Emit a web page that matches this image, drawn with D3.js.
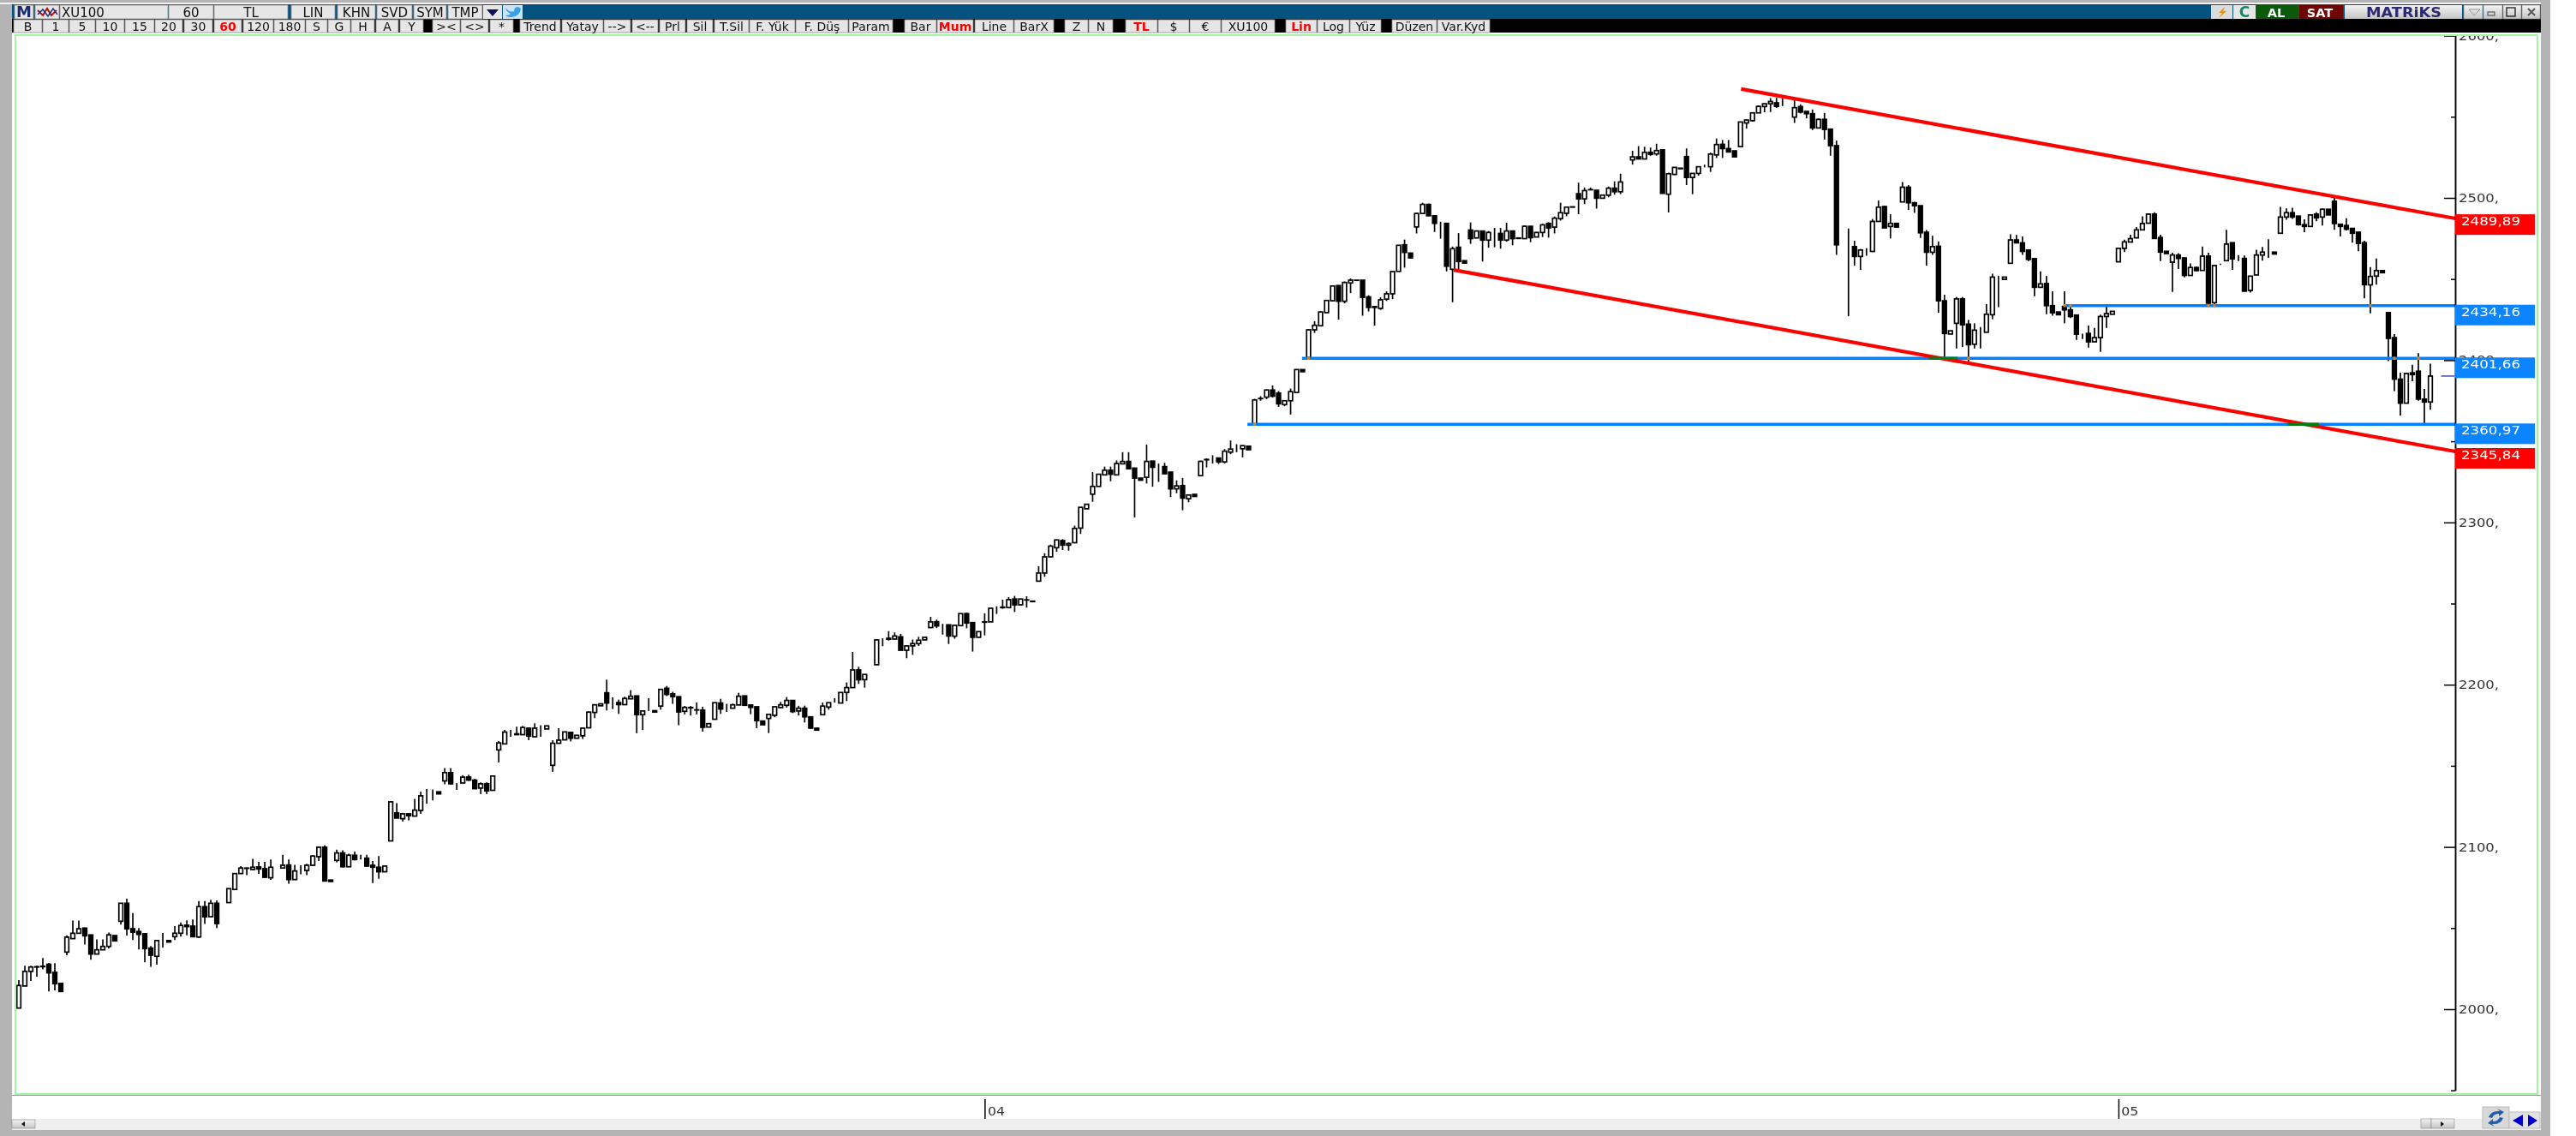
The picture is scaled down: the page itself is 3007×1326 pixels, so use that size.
<!DOCTYPE html>
<html>
<head>
<meta charset="utf-8">
<title>XU100 60</title>
<script src="https://cdn.jsdelivr.net/npm/d3@7"></script>
<style>
  html, body { margin: 0; padding: 0; background: #fff; }
  svg { display: block; filter: blur(0.4px); }
  text { font-family: "DejaVu Sans", sans-serif; }
  .candle line { stroke: #000; stroke-width: 1.7; }
  .candle rect { stroke: #000; stroke-width: 1.7; }
  .axis .domain, .axis .tick line { stroke: #000; stroke-width: 1.5; }
</style>
</head>
<body>
<div id="chart"></div>
<script>
// hourly bars, one row per session
var opens = [
  2000.7,2014.3,2023.3,2026,2026.2,2027.7,2022.7,2015.9,
  2035.2,2043.5,2046.8,2050,2045.8,2034,2036.6,2038.7,2045.4,
  2054.2,2065.3,2049.6,2047.9,2046.5,2037.7,2032.6,2042.3,2042.3,
  2044.7,2046.8,2051.8,2051.2,2044.5,2063.2,2057,2065.3,2053,
  2065.7,2073.8,2083.6,2086.8,2086.1,2087.7,2086.6,2081,2088.2,
  2087,2088.9,2079.9,2085.5,2085.5,2088.7,2094,2099.8,2079.6,
  2091.7,2096.3,2087.8,2094.9,2092.2,2093.1,2088.7,2087.5,2084.7,
  2103.7,2121,2117.4,2120.4,2119,2122.5,2132.2,2133.4,2134,
  2140.7,2145.8,2139.3,2139.4,2143.1,2141.2,2136.3,2138.9,2134.9,
  2159.8,2163.5,2170.4,2169.7,2169.2,2173.2,2167.9,2173.2,2172.7,
  2150.3,2163.9,2166,2170.6,2167,2168.5,2173.4,2182.9,2187,
  2195,2188.7,2189,2187.7,2191.3,2193.1,2181.5,2183.8,2184,
  2186.8,2197.8,2194.3,2192.6,2183.6,2185.9,2184.5,2184.3,2173.9,
  2178.7,2188.7,2186,2185.5,2187.5,2193.1,2187.5,2186.4,2177.6,
  2179.2,2181.1,2185.9,2187.3,2190.3,2183.8,2185.5,2180.2,2173.2,
  2181.5,2186.2,2189,2188.7,2195.2,2198.2,2209.1,2203.1,2206.3,
  2212.3,2227.8,2228.6,2228.1,2229.5,2221.2,2223.9,2225.3,2227.6,
  2235.2,2238.8,2236.9,2236.9,2229.9,2236.4,2243.8,2238.3,2229.2,
  2238.7,2238.7,2247.6,2247.5,2247.5,2252.8,2249.2,2252.3,2251.5,
  2263.8,2268.8,2278.8,2284.4,2288.8,2286,2287.5,2296.5,2308.4,
  2317.4,2322.2,2329.3,2332.2,2329.3,2336.1,2337.6,2333.5,2327.3,
  2327.8,2337.8,2334.4,2334.4,2331,2320.7,2322.7,2314.6,2317.3,
  2328.8,2338.8,2339,2339.7,2337.3,2343.3,2345.2,2345.4,2347,
  2360.6,2376.4,2377.2,2381.6,2379.7,2372.6,2375,2380.1,2394.2,
  2401.7,2418.7,2421.2,2429.3,2436.6,2446,2436.3,2447.6,2449.3,
  2449.3,2439,2433,2431.9,2437.6,2440.9,2454.7,2471.1,2466,
  2482.1,2490.4,2496,2489,2484.3,2484.3,2456,2469.6,2461.3,
  2480.2,2475.3,2479.6,2474,2478.7,2478.1,2474,2479.6,2475.3,
  2474.9,2482.5,2475.9,2478.7,2484.3,2482,2487.2,2490.5,2494.5,
  2502.6,2499.4,2505,2504.7,2499.8,2501.7,2506,2503.8,2510.2,
  2523.4,2525.3,2524,2528.1,2527.1,2529.6,2502.3,2514.5,2518.3,
  2525.5,2512.6,2515.1,2519.4,2519.2,2526.5,2533,2530.4,2529,
  2531.6,2546.2,2547.6,2552.4,2556.3,2558,2558.6,2556.8,2556.8,
  2549.8,2556.3,2553.3,2551.9,2543.1,2548.4,2542.4,2532.2,2472.3,
  2470.6,2470,2463.9,2467.4,2467,2485.5,2494.7,2482.4,2484.3,
  2497.5,2506.6,2497,2495.2,2478.8,2466.5,2470.2,2436.6,2416.1,
  2422.7,2437.8,2422.2,2409.8,2418.6,2417.2,2428,2450.1,2449.8,
  2459.7,2474.1,2472.3,2467.9,2462.6,2444.9,2447.2,2433.6,2429.7,
  2433.1,2431,2427.8,2416.3,2416.5,2411.3,2413.9,2426.9,2428.3,
  2460.6,2468.9,2472.8,2475.4,2480.3,2484.4,2490,2475.6,2467.1,
  2460.4,2464.8,2463,2452.2,2457.1,2455.3,2464.1,2435.4,2458.7,
  2461.3,2472.4,2462.4,2462.7,2443,2452.5,2464.8,2466.2,2466.6,
  2478.2,2488.2,2490.9,2488.8,2483.5,2482.4,2490,2488.2,2493,
  2497.9,2483.8,2483,2481.2,2478.9,2472.4,2446.4,2451.8,2455.2,
  2429.3,2413.9,2388.3,2373.5,2392.2,2393.2,2376,2374.2,2390.2
];
var highs = [
  2018,2026.8,2026.8,2026.8,2031.5,2028.5,2028.4,2015.9,
  2045.6,2054.6,2054.6,2050.3,2045.8,2043,2043,2047.2,2045.4,
  2065.3,2068.1,2059.3,2050,2046.5,2038.9,2042.3,2047,2042.3,
  2051.2,2053.5,2054.8,2055.3,2066.7,2066.7,2067.4,2067,2053,
  2074.3,2083.6,2088.2,2087.3,2092.6,2090.8,2090.8,2092.2,2088.2,
  2095.2,2092.2,2089,2088.7,2089.6,2094.9,2100.2,2101,2079.9,
  2098.4,2098,2095.8,2097.2,2095.2,2095.2,2091.4,2094.4,2088.2,
  2128,2127,2121,2120.8,2129.6,2134,2135.7,2135.4,2134,
  2148.6,2148.6,2139.3,2144.2,2144.5,2141.9,2139.8,2139.8,2143.7,
  2165.3,2172.2,2172.2,2174.1,2174.6,2173.6,2176.2,2175,2174.6,
  2165.8,2173.2,2171,2170.6,2169,2173.2,2183.5,2188,2188.2,
  2203.1,2192.2,2190.8,2192.6,2196.6,2193.1,2183.8,2191.7,2184,
  2197.5,2199.2,2195.6,2192.6,2186.9,2186.9,2189,2186.4,2176,
  2188.9,2191.3,2188.2,2188.3,2195,2193.1,2187.5,2186.4,2177.6,
  2182,2186.4,2189.4,2192.4,2190.3,2187,2187.1,2180.2,2173.2,
  2189,2188.9,2191.7,2195.2,2201.4,2220.2,2211,2206.3,2206.3,
  2228,2228.6,2233,2232.2,2231.3,2223.9,2227.8,2229.5,2229.2,
  2241.8,2240.1,2237.5,2236.9,2236.6,2243.8,2244.5,2238.3,2232.7,
  2244,2247.1,2248.3,2252.4,2254,2254.7,2253,2254.5,2251.5,
  2273,2281,2286.3,2289.5,2289.7,2287.6,2298,2309.3,2311.2,
  2331,2330,2334.4,2334.4,2338.2,2343.3,2343.3,2333.5,2327.3,
  2348,2337.8,2336.3,2336.7,2331,2325.9,2327.4,2316.9,2317.3,
  2338.2,2339.5,2341.4,2339.7,2345.2,2350.5,2348.2,2347.6,2347,
  2376.2,2377.8,2382,2384.4,2381,2375,2382.5,2394.2,2394.2,
  2419,2424,2430,2437.2,2446,2446,2448.5,2450.4,2449.3,
  2449.3,2440,2433,2438.7,2442.4,2454.6,2471,2474.3,2466,
  2491,2497,2496.5,2489,2485.3,2484.3,2470,2478.3,2461.3,
  2484.9,2480,2479.6,2479.6,2481.5,2481.5,2484.7,2479.6,2475.3,
  2483,2482.5,2479,2484,2485,2488.5,2497,2494.5,2494.5,
  2509.4,2506.4,2506.4,2504.7,2501.7,2507,2510.2,2514.9,2510.2,
  2529,2531.9,2531.5,2531,2533.4,2530,2515.5,2519,2518.3,
  2530.5,2515.1,2519.5,2520.5,2528,2536.6,2535.7,2535.7,2529,
  2547,2548.2,2552.4,2557,2558.3,2561.5,2561.7,2561.5,2556.8,
  2560.7,2557.7,2553.3,2554.5,2549,2552.4,2542.4,2535.3,2472.3,
  2481.1,2473.6,2468.5,2469,2487,2498.4,2495,2489.9,2484.3,
  2509.8,2507.9,2497.6,2495.2,2480.2,2476.7,2473.2,2440.3,2418.1,
  2438.9,2438.9,2424.8,2422.7,2420.4,2434.5,2453.3,2452,2451.2,
  2477.6,2477.2,2476.2,2467.9,2462.6,2454.7,2451.9,2442.4,2429.7,
  2442.4,2434.5,2427.8,2416.3,2421.3,2419.9,2428,2433.6,2430.1,
  2469,2474.2,2477.3,2482,2488.6,2490.5,2491.2,2477.3,2467.1,
  2466.2,2465.9,2463.6,2459.6,2457.8,2470.1,2466.2,2458.5,2459.5,
  2480.3,2472.4,2464.8,2464.5,2452,2468,2469.8,2474.5,2466.6,
  2494.4,2493.5,2493.9,2488.8,2486.8,2490,2491.2,2493.4,2493,
  2500.2,2483.8,2487.4,2481.2,2478.9,2473.6,2457.4,2462.7,2455.2,
  2429.7,2416.1,2392.3,2392.3,2397.2,2404.3,2382.3,2397.9,2390.2
];
var lows = [
  2000.7,2014.3,2017.4,2020.1,2024.5,2010.9,2011.6,2010.9,
  2033.3,2043.5,2046.8,2039.8,2030.5,2034,2036.6,2037.3,2042.1,
  2052.1,2045.4,2042.6,2036.8,2028.9,2026.2,2027.5,2038,2041.4,
  2042.6,2044.7,2045.6,2044.7,2043.8,2052.6,2057,2050,2053,
  2065.7,2073.8,2083.6,2082.6,2085.7,2083.4,2080.8,2079.7,2088.2,
  2087,2077.3,2079.9,2083.1,2082.6,2088.4,2091.4,2078.7,2078.7,
  2090.5,2087.3,2088,2091.7,2092.2,2087.8,2077.8,2080.4,2084.7,
  2103.7,2117.8,2115.7,2116.4,2119,2120.4,2126.6,2128.7,2132.7,
  2138.6,2138.4,2135.2,2139.4,2140.7,2135.7,2132.6,2132.6,2134.9,
  2152.1,2163.5,2167.9,2169.2,2169.2,2165.8,2167.9,2167.9,2172.7,
  2146.3,2163.9,2166,2165,2167,2166.5,2173.4,2179.4,2187,
  2184.1,2185,2182,2187.7,2191.3,2170.1,2172,2183.8,2183.1,
  2184.6,2193,2188.2,2175,2181.7,2181,2181.7,2171.1,2173.9,
  2178.7,2182,2183.2,2185.5,2187.5,2187.3,2181.8,2173.2,2175.3,
  2170.2,2179.9,2185.5,2185.9,2182.5,2181,2176.7,2172.9,2172,
  2181.5,2184.6,2189,2188.7,2189.9,2198.2,2200.5,2198.2,2206.3,
  2212.3,2223.7,2227.2,2228,2221.2,2216.3,2218.4,2223.9,2227.6,
  2234.8,2234.8,2230.9,2225.1,2228.3,2236.4,2234.8,2220.4,2229.2,
  2230.4,2238.7,2243.6,2246.8,2247.5,2244.8,2249.2,2247.5,2251.2,
  2263.8,2266.5,2278.8,2282,2283,2282.6,2287.5,2292.9,2308.4,
  2312.7,2322.2,2329.3,2325.4,2329.3,2336.1,2333.1,2303,2326,
  2324,2322,2325,2329.8,2315.6,2318,2307.5,2312.4,2316,
  2328.8,2333.9,2336.3,2336,2336.3,2342,2343.3,2340.1,2344.8,
  2360.6,2375,2375.9,2377,2371.2,2371.6,2366.5,2380,2392.9,
  2401.7,2416.8,2421,2429.3,2436.6,2425,2435,2441.3,2449.2,
  2427.4,2430,2421.2,2431,2436.5,2437.6,2454.7,2457,2463,
  2478.1,2490.4,2489,2479,2474.9,2454.7,2435.7,2454.5,2459.8,
  2471.7,2475.3,2460.8,2469.3,2469.6,2468.7,2473,2470.8,2475,
  2474.9,2472.7,2475.9,2475.9,2475.5,2478.1,2486,2488.7,2494.3,
  2490,2496.2,2505,2493.4,2499.8,2500.4,2502,2502.3,2510.2,
  2520.5,2524,2524,2526,2526,2502.8,2491,2514,2518,
  2507.9,2502.3,2513.7,2518.8,2516,2524.6,2524.6,2528.3,2525.3,
  2531.6,2542.7,2547,2552.4,2552.8,2552.9,2555.4,2556.6,2556.8,
  2546.2,2552,2549,2541.8,2543.1,2536,2526,2464.9,2472.3,
  2427.1,2458.2,2455.6,2464.4,2467,2485.5,2481.5,2475,2482,
  2497.5,2492.6,2490.8,2475.3,2458.2,2464.9,2429.2,2401,2416.1,
  2407.2,2408.1,2398.4,2407.2,2407.2,2417.2,2425.2,2432.7,2449.8,
  2459.7,2472.3,2464.9,2461,2439.4,2444.9,2428.3,2427.4,2428,
  2422.7,2426,2412.5,2413,2407.7,2411.3,2405.1,2419.9,2428.3,
  2460.6,2466.6,2472.8,2475,2480,2484.4,2474.8,2461,2465.7,
  2442.1,2456.2,2451,2452,2454.9,2455.3,2433.7,2434,2458.7,
  2461.3,2455.7,2461,2442.5,2441.6,2452.5,2461.3,2463,2465.4,
  2478.2,2486.5,2487,2483,2478.9,2482.4,2485.6,2483,2489.5,
  2480.3,2476.3,2480,2472.4,2467.1,2438.1,2428.9,2446.5,2453.9,
  2399.4,2380.9,2365.9,2373.5,2387,2375,2361.2,2369.4,2390.2
];
var closes = [
  2014.6,2023.3,2026,2026.2,2026.5,2022.4,2015.7,2010.9,
  2044.4,2046.8,2049.6,2045.2,2034,2036.6,2038.7,2045.8,2042.1,
  2065.3,2049.5,2047.5,2046.1,2037.3,2033.3,2042.3,2042.3,2041.4,
  2046.8,2051.6,2050.9,2044.7,2063.2,2056.9,2065.3,2052.8,2053,
  2074.3,2083.6,2087,2087,2087.5,2086.4,2081.3,2087.5,2088.2,
  2088.7,2079.9,2085.2,2085.5,2088.7,2094.4,2099.8,2079,2078.7,
  2096.3,2087.8,2094.9,2092.2,2092.2,2088.2,2087.5,2084.7,2088.2,
  2127.8,2117.8,2120.4,2119.2,2122.7,2131.5,2132.2,2133.4,2132.7,
  2145.8,2138.9,2139.3,2143,2141.2,2135.9,2138.9,2134.5,2143.7,
  2164.1,2170.8,2170.4,2169.2,2173.6,2168.3,2173.2,2173.2,2174.6,
  2163.9,2165.8,2170.9,2167,2168.8,2173.2,2183.1,2187.6,2188.2,
  2188.7,2188.7,2187.7,2191.5,2192.9,2181.5,2183.8,2183.8,2183.1,
  2197.1,2194,2192.6,2183.2,2186,2185.7,2184.4,2173.7,2176,
  2188.9,2185,2186,2187.6,2192.9,2187.3,2186,2177.8,2175.3,
  2181.7,2186.4,2187.6,2190.3,2183.4,2185.5,2180.2,2173.2,2172,
  2186.8,2188.9,2189,2195.2,2198.2,2209.1,2203,2206.3,2206.3,
  2227.6,2227.8,2228,2230,2221.2,2223.9,2225.3,2227.4,2229.2,
  2238.7,2236.2,2236.9,2230,2236.6,2243.8,2238,2229.2,2232.7,
  2238.5,2247.1,2247.6,2247.8,2252.4,2249.2,2252.8,2252.2,2251.2,
  2268.8,2278.8,2285.4,2289.2,2286,2287,2296.3,2309.3,2311.2,
  2322.2,2329.7,2332.2,2329.7,2336.3,2337.6,2333.1,2327.3,2326,
  2337.6,2334,2334.4,2330,2320.7,2322.5,2315,2316.9,2316,
  2337.6,2338.6,2339,2337.3,2343.9,2345.2,2345.2,2347.3,2344.8,
  2375.5,2376.3,2381.6,2377.8,2373.1,2375,2380.6,2394.2,2392.9,
  2418.7,2421.5,2429.7,2436.8,2445.7,2436.3,2447.9,2449.3,2449.2,
  2438.7,2432.5,2432.5,2437.2,2440.9,2454.6,2470.8,2466.4,2463,
  2490.4,2496,2489,2484.3,2484.3,2457.9,2468.7,2460.8,2459.8,
  2474.9,2479.6,2474,2478.7,2478.7,2474,2479.6,2474.9,2475,
  2482.5,2475.5,2478.7,2483.4,2481.5,2487.5,2490.9,2494.3,2494.3,
  2499.4,2504.5,2505.1,2499.8,2501.7,2506,2503.8,2509.8,2510.2,
  2525.3,2524,2528.1,2526.8,2529.2,2502.8,2514.9,2518.8,2518,
  2512.6,2515.1,2519.2,2519.4,2527,2532.9,2530.4,2528.3,2525.3,
  2546.8,2548,2552.4,2556.4,2558,2559.4,2556.4,2556.8,2556.8,
  2555.6,2552.9,2551.9,2543.1,2548.4,2542.2,2532.2,2471.1,2472.3,
  2470.6,2463.9,2467.9,2467.4,2485.5,2494.3,2481.5,2484.3,2482,
  2506.6,2497,2495.2,2478.5,2466.5,2470,2436.6,2416.4,2418.1,
  2437.8,2421.8,2409.5,2418.5,2418.6,2428.3,2451.2,2450.1,2451.2,
  2474.1,2472.3,2467,2462.1,2444.9,2447,2433.6,2429.2,2428,
  2431,2426.9,2416,2416.3,2411.3,2413.9,2426.9,2428.7,2430.1,
  2468.9,2472.9,2474.9,2480.3,2484.2,2490,2475,2466.6,2465.7,
  2464.8,2462.7,2452.2,2457.1,2455.2,2464.1,2435.1,2458.3,2458.7,
  2471.5,2462.4,2462.4,2442.5,2451.8,2464.8,2466.6,2466.2,2465.4,
  2488.2,2490.9,2488.2,2483.5,2482.4,2489.5,2487.7,2493,2489.5,
  2484.2,2482.4,2480.7,2478.2,2472,2446.5,2451.6,2455.2,2453.9,
  2413.4,2388.3,2373.5,2391.8,2391.1,2376,2374.2,2390.2,2390.2
];

var majorTicks = [2600, 2500, 2400, 2300, 2200, 2100, 2000];
var minorTicks = [2550, 2450, 2350, 2250, 2150, 2050, 1950];
var monthIndex = [161, 350];
var monthLabels = ["04", "05"];

// drawn trend lines: bar index and price at both ends
var channelTopIndex = [287.1, 406.2];
var channelTopPrice = [2567.1, 2487.3];
var channelBottomIndex = [239.2, 406.2];
var channelBottomPrice = [2455.6, 2343.7];

var levelValues = [2434.16, 2401.66, 2360.97];
var levelStart = [341.2, 213.9, 204.8];
var channelValues = [2489.89, 2345.84];
var crossIndex = [206, 215, 325, 341, 342, 365, 366, 392, 396, 400];
var crossPrice = [2360.97, 2401.66, 2401.66, 2434.16, 2434.16, 2434.16, 2434.16, 2434.16, 2401.66, 2401.66];

// toolbar
var row1Labels = ["M", "", "XU100", "60", "TL", "LIN", "KHN", "SVD", "SYM", "TMP"];
var row1Edges = [[17,39],[41,69],[70,196],[197,249],[250,336],[340,391],[394,438],[440,481],[483,521],[523,563]];
var row2Labels = ["B","1","5","10","15","20","30","60","120","180","S","G","H","A","Y",
  "><","<>","*","Trend","Yatay","-->","<--","Prl","Sil","T.Sil","F. Yük","F. Düş","Param",
  "Bar","Mum","Line","BarX","Z","N","TL","$","€","XU100","Lin","Log","Yüz","Düzen","Var.Kyd"];
var row2Edges = [[16,49],[50,80],[81,111],[112,145],[146,180],[181,213],[215,248],[250,282],[284,319],[320,356],
  [357,382],[383,409],[410,437],[439,465],[467,494],[505,537],[538,570],[572,599],[607,654],[656,704],[705,736],
  [738,768],[770,800],[802,832],[834,874],[875,928],[929,990],[991,1042],[1056,1093],[1094,1136],[1138,1183],
  [1184,1230],[1243,1270],[1271,1299],[1314,1351],[1352,1388],[1389,1425],[1426,1488],[1501,1537],[1538,1575],
  [1576,1612],[1625,1677],[1678,1739]];
var row2Active = ["60", "Mum", "TL", "Lin"];

var bars = opens.map(function (o, i) {
  return { i: i, o: o, h: highs[i], l: lows[i], c: closes[i] };
});

var width = 3007, height = 1326;
var axisX = 2866;

var svg = d3.select("#chart").append("svg")
  .attr("width", width)
  .attr("height", height);

var xScale = d3.scaleLinear().domain([0, 402]).range([22, 2837]);
var yScale = d3.scaleLinear().domain([2500, 2000]).range([231, 1178]);

function box(x0, y0, x1, y1, fill) {
  return svg.append("rect")
    .attr("x", x0).attr("y", y0)
    .attr("width", x1 - x0).attr("height", y1 - y0)
    .attr("fill", fill);
}

//Window chrome
var titleGrad = svg.append("defs").append("linearGradient")
  .attr("id", "btnGrad").attr("x1", "0%").attr("y1", "0%").attr("x2", "0%").attr("y2", "100%");
titleGrad.append("stop").attr("offset", "0%").attr("stop-color", "#f4f4f4");
titleGrad.append("stop").attr("offset", "100%").attr("stop-color", "#c4c4c4");

box(0, 0, 2977, 1326, "#b4b4b4");
box(0, 3, 2966, 5, "#f2f2f2");
box(14, 5, 2966, 22, "#03527f");
box(14, 22, 2966, 38, "#000");
box(14, 38, 2966, 1306, "#fff");
box(14, 1306, 2966, 1319, "#efefef");
box(14, 1278, 2966, 1306, "#fff");

svg.append("defs").append("clipPath").attr("id", "plotClip")
  .append("rect").attr("x", 18).attr("y", 42).attr("width", 2944).attr("height", 1235);

//Toolbars
function toolbar(labels, edges, y0, y1, size, active) {
  labels.forEach(function (label, n) {
    var e = edges[n];
    box(e[0], y0, e[1], y1, "#e6e6e6").attr("stroke", "#8a8a8a").attr("stroke-width", 0.8);
    svg.append("text")
      .attr("x", (e[0] + e[1]) / 2)
      .attr("y", y0 + (y1 - y0) / 2 + size * 0.37)
      .attr("text-anchor", "middle")
      .attr("font-size", size)
      .attr("fill", active.indexOf(label) >= 0 ? "#ff0000" : "#111")
      .attr("font-weight", active.indexOf(label) >= 0 ? "bold" : "normal")
      .text(label);
  });
}
toolbar(row1Labels, row1Edges, 6, 22, 15, []);
toolbar(row2Labels, row2Edges, 23, 38, 14, row2Active);
svg.selectAll("text").filter(function () { return d3.select(this).text() === "M"; })
  .attr("font-size", 18).attr("font-weight", "bold").attr("fill", "#1a2a6c");
// instrument name sits left in its field
svg.selectAll("text").filter(function () { return d3.select(this).text() === "XU100" && +d3.select(this).attr("x") === 133; })
  .attr("x", 72).attr("text-anchor", "start");

// small chart icon, dropdown and bird
svg.append("path").attr("d", "M44 12 L50 18 L55 10 L60 18 L66 12").attr("fill", "none").attr("stroke", "#b01010").attr("stroke-width", 2);
svg.append("path").attr("d", "M44 17 L50 11 L56 19 L62 10 L67 17").attr("fill", "none").attr("stroke", "#203080").attr("stroke-width", 1.5);
box(564, 6, 586, 22, "#e6e6e6");
svg.append("path").attr("d", "M568 11 L582 11 L575 19 Z").attr("fill", "#10105a");
box(587, 6, 610, 22, "#cfe4f4");
svg.append("path").attr("d", "M590 9 Q595 15 600 13 Q600 8 605 8 L608 10 Q607 19 597 20 Q592 20 590 18 Q594 18 596 16 Q591 14 590 9 Z").attr("fill", "#3ba0e6");

//Right side of the title bar
box(2581, 6, 2606, 22, "#dcdcdc");
svg.append("path").attr("d", "M2597 8 L2590 15 L2594 15 L2590 21 L2599 13 L2595 13 Z").attr("fill", "#e8930c");
box(2607, 6, 2633, 22, "#e6e6e6");
svg.append("text").attr("x", 2620).attr("y", 20).attr("text-anchor", "middle").attr("font-size", 17).attr("font-weight", "bold").attr("fill", "#0d8a6a").text("C");
box(2634, 6, 2683, 22, "#0b5a0b");
svg.append("text").attr("x", 2657).attr("y", 19.5).attr("text-anchor", "middle").attr("font-size", 14.5).attr("font-weight", "bold").attr("fill", "#fff").text("AL");
box(2684, 6, 2735, 22, "#6e0606");
svg.append("text").attr("x", 2708).attr("y", 19.5).attr("text-anchor", "middle").attr("font-size", 14.5).attr("font-weight", "bold").attr("fill", "#fff").text("SAT");
box(2737, 6, 2874, 22, "url(#btnGrad)");
svg.append("text").attr("x", 2762).attr("y", 19.5).attr("font-size", 15).attr("font-weight", "bold").attr("fill", "#2a2a72")
  .attr("textLength", 88).attr("lengthAdjust", "spacingAndGlyphs").text("MATRiKS");
[[2876, 2898], [2899, 2921], [2922, 2943], [2944, 2965]].forEach(function (e) {
  box(e[0], 6, e[1], 22, "url(#btnGrad)").attr("stroke", "#8a8a8a").attr("stroke-width", 0.6);
});
svg.append("path").attr("d", "M2882 11 L2895 11 L2888 18 Z").attr("fill", "none").attr("stroke", "#999");
box(2904, 14, 2912, 18, "none").attr("stroke", "#444");
box(2926, 9, 2936, 19, "none").attr("stroke", "#333").attr("stroke-width", 1.5);
svg.append("path").attr("d", "M2951 10 L2959 18 M2959 10 L2951 18").attr("stroke", "#555").attr("stroke-width", 2);

//Candles
var candles = svg.append("g").attr("clip-path", "url(#plotClip)")
  .selectAll(".candle")
  .data(bars)
  .enter().append("g")
  .attr("class", "candle");

candles.append("line")
  .attr("x1", function (d) { return xScale(d.i); })
  .attr("x2", function (d) { return xScale(d.i); })
  .attr("y1", function (d) { return yScale(d.h); })
  .attr("y2", function (d) { return yScale(d.l); });

candles.append("rect")
  .attr("x", function (d) { return xScale(d.i) - 2.3; })
  .attr("width", 4.6)
  .attr("y", function (d) { return yScale(Math.max(d.o, d.c)); })
  .attr("height", function (d) { return Math.abs(yScale(d.o) - yScale(d.c)); })
  .attr("fill", function (d) { return d.c >= d.o ? "#fff" : "#000"; });

//Horizontal levels
var lineGroup = svg.append("g");
levelValues.forEach(function (v, n) {
  lineGroup.append("line")
    .attr("x1", xScale(levelStart[n])).attr("x2", axisX)
    .attr("y1", yScale(v) + 1).attr("y2", yScale(v) + 1)
    .attr("stroke", "#0080ff").attr("stroke-width", 3.6);
});

//Channel lines
var lineFunction = d3.line()
  .x(function (d) { return xScale(d[0]); })
  .y(function (d) { return yScale(d[1]); });

[[channelTopIndex, channelTopPrice], [channelBottomIndex, channelBottomPrice]].forEach(function (c) {
  lineGroup.append("path")
    .attr("d", lineFunction(d3.zip(c[0], c[1])))
    .attr("fill", "none")
    .attr("stroke", "#ff0000")
    .attr("stroke-width", 4.2);
});

// the platform paints crossings in another colour
crossIndex.forEach(function (idx, n) {
  lineGroup.append("line")
    .attr("x1", xScale(idx) - 1.4).attr("x2", xScale(idx) + 1.4)
    .attr("y1", yScale(crossPrice[n]) + 1).attr("y2", yScale(crossPrice[n]) + 1)
    .attr("stroke", "#e8820c").attr("stroke-width", 3.6);
});
[[318.4, 323.2, 2401.66], [378.2, 383.4, 2360.97]].forEach(function (s) {
  lineGroup.append("line")
    .attr("x1", xScale(s[0])).attr("x2", xScale(s[1]))
    .attr("y1", yScale(s[2]) + 1).attr("y2", yScale(s[2]) + 1)
    .attr("stroke", "#0a7a14").attr("stroke-width", 3.6);
});

//Last price marker
lineGroup.append("line")
  .attr("x1", xScale(403.8)).attr("x2", xScale(406))
  .attr("y1", yScale(closes[closes.length - 1])).attr("y2", yScale(closes[closes.length - 1]))
  .attr("stroke", "#3c3ca8").attr("stroke-width", 1.4);

//Y axis
var axisRange = yScale.copy().domain([2600, 1950]).range([yScale(2600), yScale(1950)]);

var axisGroup = svg.append("g").attr("clip-path", "url(#plotClip)");

axisGroup.append("g")
  .attr("class", "axis")
  .attr("transform", "translate(" + axisX + ",0)")
  .call(d3.axisLeft(axisRange).tickValues(minorTicks).tickSize(5).tickSizeOuter(0).tickFormat(""));

axisGroup.append("g")
  .attr("class", "axis")
  .attr("transform", "translate(" + axisX + ",0)")
  .call(d3.axisLeft(axisRange).tickValues(majorTicks).tickSize(13).tickSizeOuter(0).tickFormat(""));

axisGroup.append("g")
  .attr("transform", "translate(" + (axisX + 4) + ",0)")
  .selectAll("text")
  .data(majorTicks)
  .enter().append("text")
  .attr("y", function (d) { return yScale(d) + 5; })
  .attr("font-size", 13.5)
  .attr("fill", "#333")
  .attr("textLength", 47)
  .attr("lengthAdjust", "spacingAndGlyphs")
  .text(function (d) { return d + ","; });

//Value boxes
var priceFormat = function (v) { return v.toFixed(2).replace(".", ","); };
function valueBoxes(values, colour) {
  var g = svg.append("g").selectAll("g").data(values).enter().append("g");
  g.append("rect")
    .attr("x", axisX)
    .attr("y", function (d) { return yScale(d); })
    .attr("width", 93)
    .attr("height", 24)
    .attr("fill", colour);
  g.append("text")
    .attr("x", axisX + 7)
    .attr("y", function (d) { return yScale(d) + 13; })
    .attr("font-size", 13.5)
    .attr("fill", "#fff")
    .attr("textLength", 69)
    .attr("lengthAdjust", "spacingAndGlyphs")
    .text(priceFormat);
}
valueBoxes(levelValues, "#0a84ff");
valueBoxes(channelValues, "#ff0000");

//Frame
svg.append("rect")
  .attr("x", 18).attr("y", 41).attr("width", 2944).attr("height", 1236)
  .attr("fill", "none").attr("stroke", "#a4f4a4").attr("stroke-width", 2);
svg.append("line").attr("x1", 14).attr("x2", 2966).attr("y1", 1278.5).attr("y2", 1278.5).attr("stroke", "#9a9a9a");

//Month axis
var monthAxis = d3.axisBottom(xScale)
  .tickValues(monthIndex)
  .tickSize(23)
  .tickSizeOuter(0)
  .tickFormat(function (d) { return monthLabels[monthIndex.indexOf(d)]; });

var monthGroup = svg.append("g")
  .attr("class", "axis")
  .attr("transform", "translate(0,1283)")
  .call(monthAxis);
monthGroup.select(".domain").remove();
monthGroup.selectAll(".tick line").attr("stroke", "#444").attr("stroke-width", 1.4);
monthGroup.selectAll(".tick text")
  .attr("x", 3).attr("y", 9).attr("dy", "0.71em")
  .attr("text-anchor", "start")
  .attr("font-size", 13.5)
  .attr("font-family", "DejaVu Sans")
  .attr("fill", "#333")
  .attr("textLength", 20)
  .attr("lengthAdjust", "spacingAndGlyphs");

//Scroll bar and corner buttons
box(14, 1307, 41, 1317, "url(#btnGrad)").attr("stroke", "#888").attr("stroke-width", 0.6);
svg.append("path").attr("d", "M25 1312 L29 1309 L29 1315 Z").attr("fill", "#111");
box(2826, 1306, 2838, 1317, "url(#btnGrad)").attr("stroke", "#888").attr("stroke-width", 0.6);
box(2838, 1306, 2865, 1317, "url(#btnGrad)").attr("stroke", "#888").attr("stroke-width", 0.6);
svg.append("path").attr("d", "M2853 1312 L2849 1309 L2849 1315 Z").attr("fill", "#111");
box(2898, 1292, 2929, 1317, "#d8d8d8").attr("stroke", "#bbb");
svg.append("path").attr("d", "M2905 1304 Q2908 1296 2918 1297 L2915 1294 L2923 1298 L2917 1303 L2917 1300 Q2911 1300 2909 1305 Z M2922 1305 Q2919 1313 2909 1312 L2912 1315 L2904 1311 L2910 1306 L2910 1309 Q2916 1309 2918 1304 Z").attr("fill", "#1f5fae");
box(2929, 1298, 2965, 1317, "#e2e2e2").attr("stroke", "#bbb");
svg.append("path").attr("d", "M2933 1308 L2945 1301 L2945 1315 Z M2962 1308 L2951 1301 L2951 1315 Z").attr("fill", "#0000cc");
</script>
</body>
</html>
